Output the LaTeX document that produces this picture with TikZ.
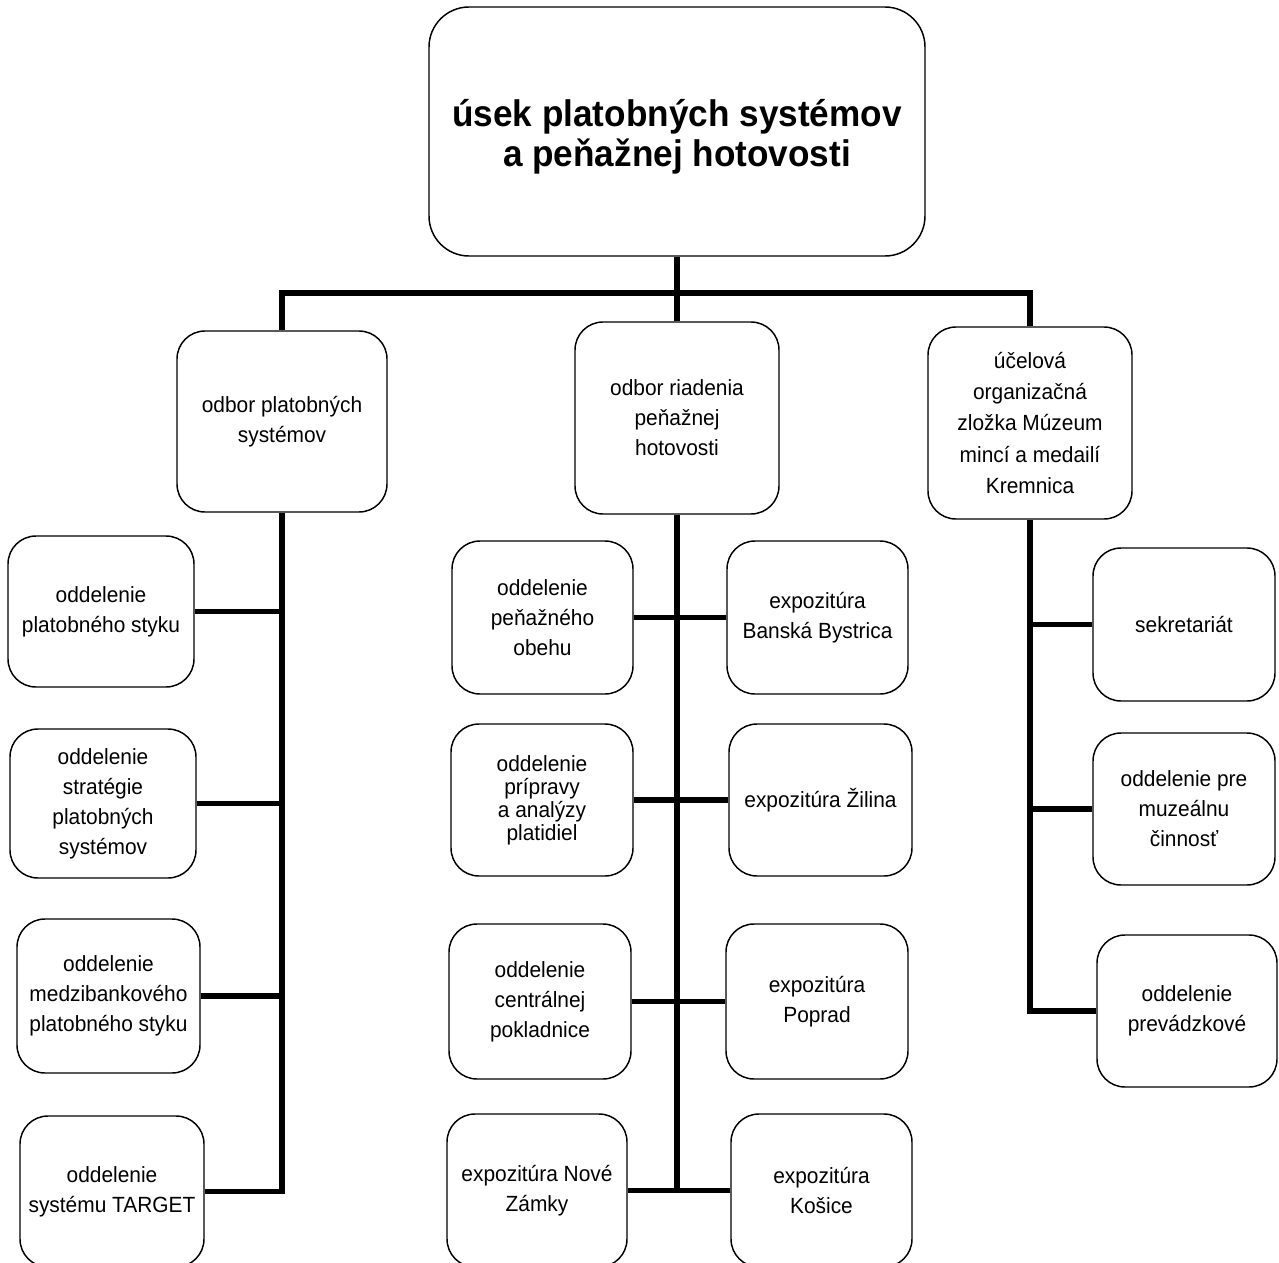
\documentclass[tikz,border=0pt]{standalone}
\usepackage{fontspec}
\setmainfont{Liberation Sans}[FakeStretch=0.95]
\begin{document}
\begin{tikzpicture}[x=0.75pt,y=-0.75pt,
  box/.style={draw, line width=1.1pt, rounded corners=21pt, align=center, inner sep=0pt, fill=white,
    anchor=center, font=\fontsize{16.5}{22.5}\selectfont},
  topbox/.style={rounded corners=30pt, font=\bfseries\fontsize{27.75}{32.25}\selectfont},
  tight/.style={font=\fontsize{16.5}{17.3}\selectfont},
  conn/.style={line width=3.8pt}]
\newcommand\obox[7][]{%
  \node[box,#1,minimum width={(#5-#3)*0.75pt},minimum height={(#6-#4)*0.75pt}]
    (#2) at ({(#3+#5)/2},{(#4+#6)/2}) {#7};}
\clip (0,0) rectangle (1279,1263);
\useasboundingbox (0,0) rectangle (1279,1263);
\fill[white] (0,0) rectangle (1279,1263);

% top
\obox[topbox]{top}{429}{7}{925}{256}{\raisebox{-5pt}[\height][\depth]{\begin{tabular}{@{}c@{}}úsek platobných systémov\\[-2pt]a peňažnej hotovosti\end{tabular}}}

% level 2
\obox{m1}{177}{331}{387}{512}{odbor platobných\\systémov}
\obox{m2}{575}{322}{779}{514}{odbor riadenia\\peňažnej\\hotovosti}
\obox[font=\fontsize{16.5}{23.3}\selectfont]{m3}{928}{327}{1132}{519}{účelová\\organizačná\\zložka Múzeum\\mincí a medailí\\Kremnica}

% left column
\obox{l1}{8}{536}{194}{687}{oddelenie\\platobného styku}
\obox{l2}{10}{729}{196}{878}{oddelenie\\stratégie\\platobných\\systémov}
\obox{l3}{17}{919}{200}{1073}{oddelenie\\medzibankového\\platobného styku}
\obox{l4}{20}{1116}{204}{1267}{oddelenie\\systému TARGET}

% middle column
\obox{ml1}{452}{541}{633}{694}{oddelenie\\peňažného\\obehu}
\obox{mr1}{727}{541}{908}{694}{expozitúra\\Banská Bystrica}
\obox[tight]{ml2}{451}{724}{633}{876}{oddelenie\\prípravy\\a analýzy\\platidiel}
\obox{mr2}{729}{724}{912}{876}{expozitúra Žilina}
\obox{ml3}{449}{924}{631}{1079}{oddelenie\\centrálnej\\pokladnice}
\obox{mr3}{726}{924}{908}{1079}{expozitúra\\Poprad}
\obox{ml4}{447}{1114}{627}{1267}{expozitúra Nové\\Zámky}
\obox{mr4}{731}{1114}{912}{1267}{expozitúra\\Košice}

% right column
\obox{r1}{1093}{548}{1275}{701}{sekretariát}
\obox{r2}{1093}{733}{1275}{885}{oddelenie pre\\muzeálnu\\činnosť}
\obox{r3}{1097}{935}{1277}{1087}{oddelenie\\prevádzkové}

% connectors
\coordinate (bus) at (677,293);
\draw[conn] (top.south) -- (m2.north);
\draw[conn] (m1.north) |- (bus) -| (m3.north);

\draw[conn] (m1.south) |- (l4.east);
\draw[conn] (l1.east) -- (l1.east -| m1.south);
\draw[conn] (l2.east) -- (l2.east -| m1.south);
\draw[conn] (l3.east) -- (l3.east -| m1.south);

\draw[conn] (m2.south) -- (m2.south |- ml4.east);
\draw[conn] (ml1.east) -- (mr1.west);
\draw[conn] (ml2.east) -- (mr2.west);
\draw[conn] (ml3.east) -- (mr3.west);
\draw[conn] (ml4.east) -- (mr4.west);

\draw[conn] (m3.south) |- (r3.west);
\draw[conn] (r1.west) -- (r1.west -| m3.south);
\draw[conn] (r2.west) -- (r2.west -| m3.south);
\end{tikzpicture}
\end{document}
